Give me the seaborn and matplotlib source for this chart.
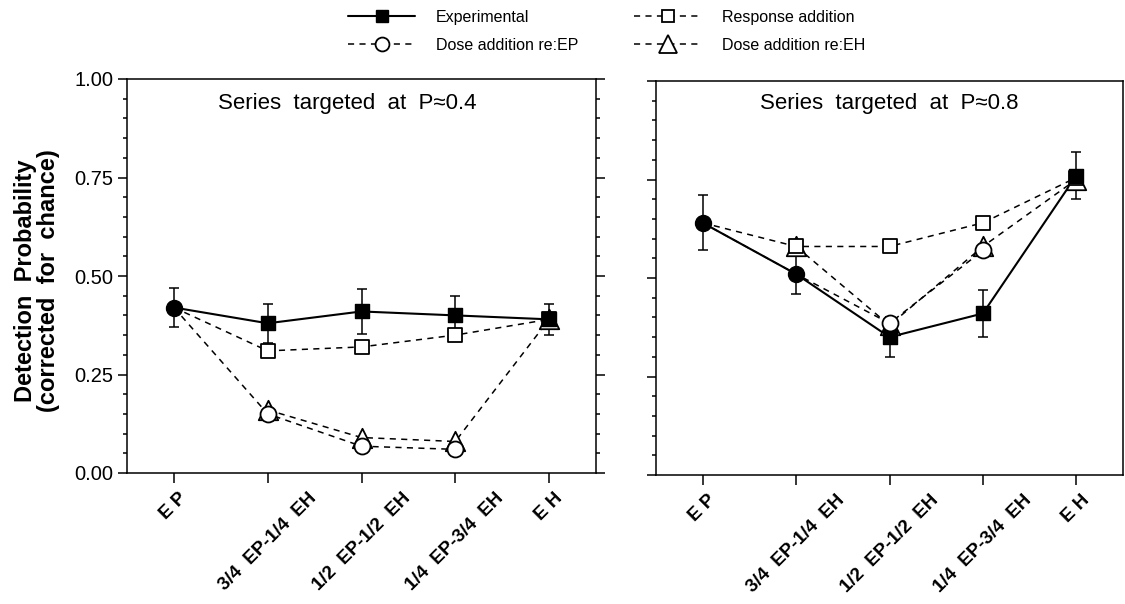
import numpy as np
import matplotlib
matplotlib.use("Agg")
import matplotlib.pyplot as plt
from matplotlib.lines import Line2D
from matplotlib.ticker import MultipleLocator, FormatStrFormatter
import seaborn as sns

# ---------------- data ----------------
categories = ["E P", "3/4  EP-1/4  EH", "1/2  EP-1/2  EH", "1/4  EP-3/4  EH", "E H"]
panel_titles = ["Series  targeted  at  P\u22480.4", "Series  targeted  at  P\u22480.8"]
nan = np.nan

exp_04 = [0.42, 0.38, 0.41, 0.40, 0.39]
exp_err_04 = [0.05, 0.05, 0.056, 0.05, 0.04]
resp_04 = [0.42, 0.31, 0.32, 0.35, 0.39]
dose_ep_04 = [0.42, 0.15, 0.068, 0.06, nan]
dose_eh_04 = [nan, 0.16, 0.09, 0.08, 0.39]
dose_ep_filled_04 = [True, False, False, False, False]

exp_08 = [0.64, 0.51, 0.35, 0.41, 0.76]
exp_err_08 = [0.07, 0.05, 0.05, 0.06, 0.06]
resp_08 = [0.64, 0.58, 0.58, 0.64, 0.755]
dose_ep_08 = [0.64, 0.51, 0.385, 0.57, nan]
dose_eh_08 = [nan, 0.58, 0.38, 0.58, 0.75]
dose_ep_filled_08 = [True, True, False, False, False]

legend_labels = ["Experimental", "Response addition", "Dose addition re:EP", "Dose addition re:EH"]
y_label = "Detection  Probability\n(corrected  for  chance)"

# ---------------- style ----------------
sns.set_theme(style="ticks")
plt.rcParams["font.family"] = ["Liberation Sans", "DejaVu Sans"]
plt.rcParams["axes.linewidth"] = 1.1
for k in ("text.color", "axes.labelcolor", "xtick.color", "ytick.color", "axes.edgecolor"):
    plt.rcParams[k] = "black"

DASH = (0, (4, 3.5))
LW_SOLID = 1.5
LW_DASH = 1.1
MS_SQ = 9.5
MS_CI = 11.5
MS_TR = 14

fig = plt.figure(figsize=(11.25, 6.04), dpi=100)
ax1 = fig.add_axes([127 / 1125, 1 - 473 / 604, 469 / 1125, 394 / 604])
ax2 = fig.add_axes([656 / 1125, 1 - 475 / 604, 467 / 1125, 394 / 604])

xpos = np.arange(len(categories))


def draw_panel(ax, exp, err, resp, dose_ep, dose_eh, filled):
    exp = np.array(exp, float)
    resp = np.array(resp, float)
    dose_ep = np.array(dose_ep, float)
    dose_eh = np.array(dose_eh, float)
    filled = np.array(filled, bool)

    # lines
    m = ~np.isnan(dose_eh)
    sns.lineplot(x=xpos[m], y=dose_eh[m], ax=ax, color="black", linestyle=DASH,
                 linewidth=LW_DASH, estimator=None, errorbar=None, sort=False, zorder=2)
    sns.lineplot(x=xpos, y=resp, ax=ax, color="black", linestyle=DASH,
                 linewidth=LW_DASH, estimator=None, errorbar=None, sort=False, zorder=2)
    m2 = ~np.isnan(dose_ep)
    sns.lineplot(x=xpos[m2], y=dose_ep[m2], ax=ax, color="black", linestyle=DASH,
                 linewidth=LW_DASH, estimator=None, errorbar=None, sort=False, zorder=2)
    sns.lineplot(x=xpos, y=exp, ax=ax, color="black", linestyle="-",
                 linewidth=LW_SOLID, estimator=None, errorbar=None, sort=False, zorder=3)

    # error bars
    ax.errorbar(xpos, exp, yerr=err, fmt="none", ecolor="black", elinewidth=1.1,
                capsize=3.6, capthick=1.1, zorder=3)

    # markers
    sns.scatterplot(x=xpos[m], y=dose_eh[m], ax=ax, marker="^", s=MS_TR ** 2,
                    color="white", edgecolor="black", linewidth=1.3, zorder=4)
    resp_mask = np.ones(len(resp), bool)
    resp_mask[0] = False
    sns.scatterplot(x=xpos[resp_mask], y=resp[resp_mask], ax=ax, marker="s", s=MS_SQ ** 2,
                    color="white", edgecolor="black", linewidth=1.3, zorder=5)
    sns.scatterplot(x=xpos[~filled], y=exp[~filled], ax=ax, marker="s", s=MS_SQ ** 2,
                    color="black", edgecolor="black", linewidth=1.0, zorder=6)
    open_c = m2 & ~filled
    sns.scatterplot(x=xpos[open_c], y=dose_ep[open_c], ax=ax, marker="o", s=MS_CI ** 2,
                    color="white", edgecolor="black", linewidth=1.3, zorder=7)
    sns.scatterplot(x=xpos[filled], y=dose_ep[filled], ax=ax, marker="o", s=MS_CI ** 2,
                    color="black", edgecolor="black", linewidth=1.0, zorder=7)


draw_panel(ax1, exp_04, exp_err_04, resp_04, dose_ep_04, dose_eh_04, dose_ep_filled_04)
draw_panel(ax2, exp_08, exp_err_08, resp_08, dose_ep_08, dose_eh_08, dose_ep_filled_08)

for ax in (ax1, ax2):
    ax.set_xlim(-0.5, 4.5)
    ax.set_ylim(0, 1.0)
    ax.set_xticks(xpos)
    ax.set_xticklabels(categories, rotation=45, ha="center", va="top",
                       fontweight="bold", fontsize=13.5)
    ax.yaxis.set_major_locator(MultipleLocator(0.25))
    ax.yaxis.set_minor_locator(MultipleLocator(0.05))
    ax.yaxis.set_major_formatter(FormatStrFormatter("%.2f"))
    ax.tick_params(axis="x", direction="out", length=7, width=1.1, pad=5)
    ax.tick_params(axis="y", which="major", direction="out", length=6.5, width=1.1,
                   labelsize=14.5, pad=3.5)
    ax.tick_params(axis="y", which="minor", direction="out", length=3.2, width=1.1)
    ax.set_xlabel("")
    ax.set_ylabel("")
    for s in ax.spines.values():
        s.set_visible(True)
        s.set_linewidth(1.1)
        s.set_color("black")

ax1.tick_params(axis="y", which="both", right=True, labelright=False)
ax2.tick_params(axis="y", which="both", left=True, right=False, labelleft=False)

ax1.text(0.47, 0.939, panel_titles[0], transform=ax1.transAxes, ha="center",
         va="center", fontsize=16)
ax2.text(0.50, 0.944, panel_titles[1], transform=ax2.transAxes, ha="center",
         va="center", fontsize=16)

fig.text(0.033, 0.535, y_label, rotation=90, ha="center", va="center",
         fontsize=17, fontweight="bold", linespacing=1.0)

# legend
h_exp = Line2D([], [], color="black", linestyle="-", linewidth=LW_SOLID, marker="s",
               markersize=MS_SQ - 0.5, markerfacecolor="black", markeredgecolor="black")
h_resp = Line2D([], [], color="black", linestyle=DASH, linewidth=LW_DASH, marker="s",
                markersize=MS_SQ - 0.5, markerfacecolor="white", markeredgecolor="black",
                markeredgewidth=1.3)
h_dep = Line2D([], [], color="black", linestyle=DASH, linewidth=LW_DASH, marker="o",
               markersize=MS_CI - 1.5, markerfacecolor="white", markeredgecolor="black",
               markeredgewidth=1.3)
h_deh = Line2D([], [], color="black", linestyle=DASH, linewidth=LW_DASH, marker="^",
               markersize=MS_TR - 1.5, markerfacecolor="white", markeredgecolor="black",
               markeredgewidth=1.3)
fig.legend([h_exp, h_dep, h_resp, h_deh],
           [legend_labels[0], legend_labels[2], legend_labels[1], legend_labels[3]],
           ncol=2, loc="upper left", bbox_to_anchor=(348 / 1125, 1 - 10 / 604),
           bbox_transform=fig.transFigure, frameon=False, fontsize=11.5,
           handlelength=4.2, handletextpad=1.3, columnspacing=3.5, labelspacing=0.8,
           borderpad=0, borderaxespad=0, numpoints=1)

fig.savefig("out.png", dpi=100)
